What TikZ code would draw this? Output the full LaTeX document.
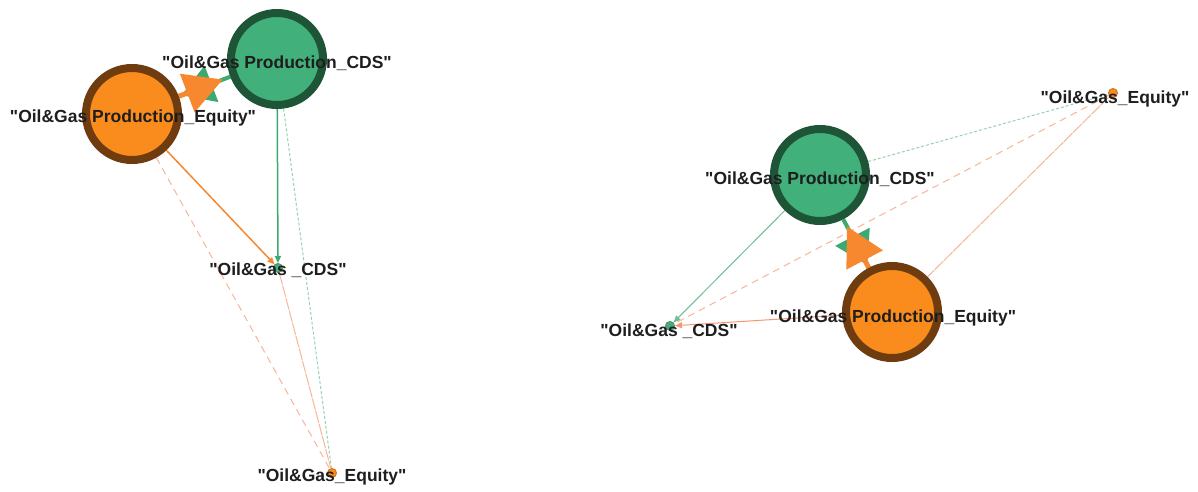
\documentclass[tikz,border=0pt]{standalone}
\usepackage{fontspec}
\setmainfont{Liberation Sans}
\usetikzlibrary{arrows.meta}
\definecolor{nodegreen}{RGB}{65,176,122}
\definecolor{rimgreen}{RGB}{30,85,55}
\definecolor{nodeorange}{RGB}{250,140,30}
\definecolor{rimorange}{RGB}{110,60,15}
\definecolor{edgegreen}{RGB}{60,170,112}
\definecolor{edgeorange}{RGB}{247,136,47}
\definecolor{softorange}{RGB}{248,150,110}
\definecolor{paleorange}{RGB}{250,180,155}
\definecolor{softgreen}{RGB}{110,190,150}
\definecolor{palegreen}{RGB}{150,210,180}
\definecolor{labelgray}{RGB}{30,30,30}
\pgfdeclarelayer{edges}
\pgfsetlayers{edges,main}
\newcommand{\qq}[1]{\textquotedbl#1\textquotedbl}
\begin{document}
\begin{tikzpicture}[x=1pt,y=-1pt,
  hub/.style={circle, line width=8pt, minimum size=92pt, inner sep=0pt, outer sep=4pt},
  cdshub/.style={hub, fill=nodegreen, draw=rimgreen},
  eqhub/.style={hub, fill=nodeorange, draw=rimorange},
  dot/.style={circle, minimum size=9pt, inner sep=0pt, outer sep=0.5pt, line width=1pt},
  cdsdot/.style={dot, fill=nodegreen, draw=rimgreen!70},
  eqdot/.style={dot, fill=nodeorange, draw=nodeorange!85!black},
  lbl/.style={font=\fontsize{17.5}{20}\selectfont\bfseries, text=labelgray, inner sep=0pt, anchor=base},
  thickgreen/.style={draw=edgegreen, line width=4pt, -{Triangle[length=32pt 0,width=38pt 0]}, shorten >=3pt},
  thickorange/.style={draw=edgeorange, line width=5pt, -{Triangle[length=38pt 0,width=40pt 0]}, shorten >=8pt},
  plaingreen/.style={draw=edgegreen, line width=1.5pt, -{Triangle[length=7pt,width=6pt]}},
  plainorange/.style={draw=edgeorange, line width=1.5pt, -{Triangle[length=7pt,width=6pt]}},
  lightgreen/.style={draw=softgreen, line width=1pt, -{Triangle[length=7pt,width=6pt]}},
  lightorange/.style={draw=softorange, line width=1pt, -{Triangle[length=7pt,width=6pt]}},
  dashgreen/.style={draw=palegreen, line width=1pt, dash pattern=on 3pt off 2pt},
  dashorange/.style={draw=paleorange, line width=1pt, dash pattern=on 7pt off 5pt},
  faintorange/.style={draw=paleorange, line width=1pt, dash pattern=on 12pt off 1pt}
]
\useasboundingbox (0,0) rectangle (1198,492);

% left layout
\node[cdshub] (lCDS) at (277,59) {};
\node[eqhub]  (lEq)  at (132,114) {};
\node[cdsdot] (lcds) at (278,268) {};
\node[eqdot]  (leq)  at (332,473) {};

% right layout
\node[cdshub] (rCDS) at (820,175) {};
\node[eqhub]  (rEq)  at (892,312) {};
\node[cdsdot] (rcds) at (670,326) {};
\node[eqdot]  (req)  at (1113,93) {};

% labels
\node[lbl] (lCDSlab) at (277,69)  {\qq{Oil\&Gas Production\_CDS}};
\node[lbl] (lEqlab)  at (133,123) {\qq{Oil\&Gas Production\_Equity}};
\node[lbl] (lcdslab) at (278,275) {\qq{Oil\&Gas \_CDS}};
\node[lbl] (leqlab)  at (332,481) {\qq{Oil\&Gas\_Equity}};
\node[lbl] (rCDSlab) at (820,184) {\qq{Oil\&Gas Production\_CDS}};
\node[lbl] (rEqlab)  at (893,322) {\qq{Oil\&Gas Production\_Equity}};
\node[lbl] (rcdslab) at (669,336) {\qq{Oil\&Gas \_CDS}};
\node[lbl] (reqlab)  at (1115,103) {\qq{Oil\&Gas\_Equity}};

\begin{pgfonlayer}{edges}
  \fill[white] (0,0) rectangle (1198,492);
  % left layout edges
  \draw[dashgreen]   (lCDS) -- (leq);
  \draw[dashorange]  (lEq)  -- (leq);
  \draw[faintorange] (lcds) -- (leq);
  \draw[plaingreen]  (lCDS) -- (lcds);
  \draw[plainorange] (lEq)  -- (lcds);
  \draw[thickgreen]  (lCDS) -- (lEq);
  \draw[thickorange] (lEq)  -- (lCDS);
  % right layout edges
  \draw[dashgreen]   (rCDS) -- (req);
  \draw[dashorange]  (req)  -- (rcds);
  \draw[faintorange] (req)  -- (rEq);
  \draw[lightgreen]  (rCDS) -- (rcds);
  \draw[lightorange] (rEq)  -- (rcds);
  \draw[thickgreen]  (rCDS) -- (rEq);
  \draw[thickorange] (rEq)  -- (rCDS);
\end{pgfonlayer}
\end{tikzpicture}
\end{document}
